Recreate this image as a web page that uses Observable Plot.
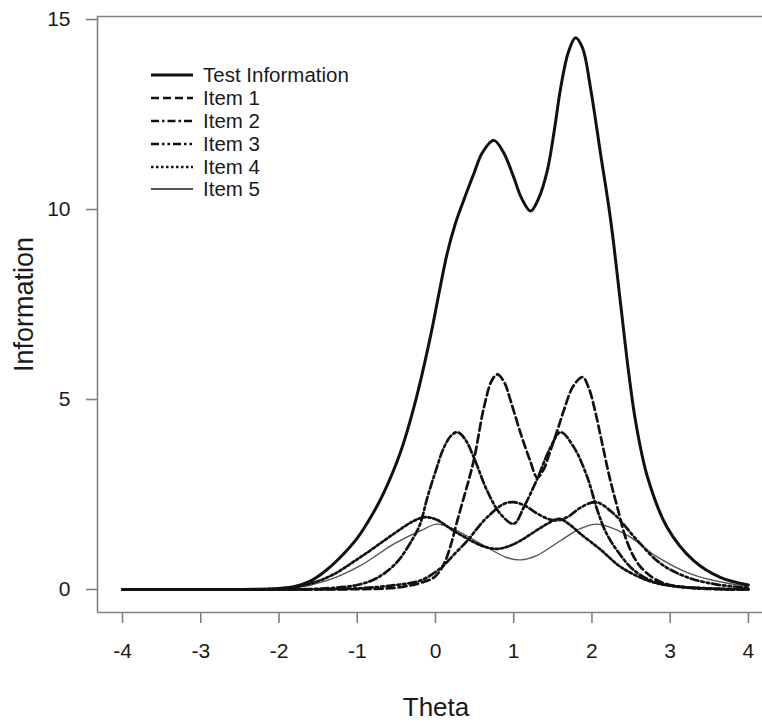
<!DOCTYPE html>
<html>
<head>
<meta charset="utf-8">
<script src="https://cdn.jsdelivr.net/npm/d3@7"></script>
<script src="https://cdn.jsdelivr.net/npm/@observablehq/plot@0.6"></script>
<style>
  html, body { margin: 0; padding: 0; background: #fff; overflow: hidden; }
  #wrap { position: relative; width: 762px; height: 726px; font-family: "Liberation Sans", Arial, sans-serif; }
  #legend { position: absolute; left: 150px; top: 64px; }
  .row { display: flex; align-items: center; height: 22.8px; }
  .row svg { display: block; }
  .row span { font-size: 20.5px; color: #1a1a1a; margin-left: 9px; line-height: 22px; }
</style>
</head>
<body>
<div id="wrap"></div>
<script>
// ---- data ----
const seriesNames = ["Test Information", "Item 1", "Item 2", "Item 3", "Item 4", "Item 5"];
const xTicks = [-4, -3, -2, -1, 0, 1, 2, 3, 4];
const yTicks = [0, 5, 10, 15];

const testTheta = [-4, -3, -2.2, -2, -1.8, -1.6, -1.4, -1.2, -1.0, -0.8, -0.66, -0.45, -0.25, -0.06, 0.05, 0.15, 0.25, 0.36, 0.49, 0.6, 0.746, 0.87, 1.0, 1.1, 1.215, 1.32, 1.43, 1.52, 1.6, 1.7, 1.79, 1.88, 1.98, 2.11, 2.24, 2.37, 2.47, 2.56, 2.71, 2.96, 3.3, 3.64, 4];
const testInfo  = [0, 0, 0.01, 0.03, 0.08, 0.22, 0.5, 0.88, 1.35, 2.0, 2.55, 3.6, 5.0, 6.7, 7.85, 8.85, 9.6, 10.24, 10.94, 11.5, 11.82, 11.5, 10.85, 10.3, 9.96, 10.3, 11.03, 12.1, 13.2, 14.15, 14.52, 14.25, 13.22, 11.47, 9.71, 7.45, 5.7, 4.4, 2.96, 1.64, 0.76, 0.32, 0.12];

const item1Theta = [-4, -2, -1, -0.5, -0.15, 0, 0.11, 0.2, 0.28, 0.38, 0.49, 0.62, 0.72, 0.79, 0.88, 0.96, 1.09, 1.21, 1.3, 1.38, 1.47, 1.56, 1.64, 1.76, 1.88, 1.96, 2.04, 2.12, 2.22, 2.32, 2.45, 2.6, 2.8, 3.0, 3.5, 4];
const item1Info  = [0, 0, 0.01, 0.05, 0.2, 0.35, 0.68, 1.2, 1.82, 2.55, 3.4, 4.8, 5.5, 5.66, 5.45, 4.97, 4.1, 3.39, 2.95, 3.15, 3.66, 4.2, 4.71, 5.35, 5.59, 5.3, 4.7, 3.95, 3.0, 2.2, 1.25, 0.65, 0.28, 0.12, 0.02, 0];

const item2Theta = [-4, -2, -1.4, -1, -0.75, -0.5, -0.3, -0.2, -0.1, 0, 0.1, 0.2, 0.28, 0.38, 0.49, 0.66, 0.83, 1.0, 1.13, 1.3, 1.47, 1.6, 1.77, 1.94, 2.07, 2.18, 2.32, 2.54, 2.8, 3.2, 3.6, 4];
const item2Info  = [0, 0, 0.03, 0.12, 0.3, 0.7, 1.3, 1.7, 2.45, 3.1, 3.7, 4.05, 4.14, 3.95, 3.48, 2.6, 1.99, 1.73, 2.17, 2.91, 3.74, 4.14, 3.74, 2.96, 2.08, 1.5, 1.03, 0.5, 0.2, 0.05, 0.01, 0];

const item3Theta = [-4, -2, -1, -0.5, -0.19, 0.06, 0.25, 0.41, 0.55, 0.66, 0.87, 1.0, 1.15, 1.3, 1.45, 1.56, 1.7, 1.85, 2.05, 2.28, 2.58, 2.88, 3.22, 3.6, 4];
const item3Info  = [0, 0, 0.03, 0.12, 0.24, 0.55, 0.95, 1.29, 1.65, 1.9, 2.25, 2.30, 2.2, 2.0, 1.85, 1.82, 1.92, 2.15, 2.30, 1.99, 1.29, 0.68, 0.32, 0.13, 0.05];

const item4Theta = [-4, -2.2, -1.8, -1.38, -0.96, -0.53, -0.3, -0.15, 0, 0.23, 0.45, 0.62, 0.79, 0.95, 1.09, 1.25, 1.43, 1.58, 1.72, 1.85, 2.11, 2.37, 2.71, 3.0, 3.5, 4];
const item4Info  = [0, 0.01, 0.06, 0.32, 0.85, 1.47, 1.78, 1.90, 1.85, 1.55, 1.29, 1.13, 1.07, 1.15, 1.29, 1.5, 1.73, 1.86, 1.7, 1.47, 1.05, 0.59, 0.24, 0.1, 0.03, 0.01];

const item5Theta = [-4, -2.2, -1.8, -1.38, -0.96, -0.53, -0.19, 0.02, 0.2, 0.45, 0.66, 0.9, 1.09, 1.3, 1.6, 1.85, 2.05, 2.2, 2.49, 2.84, 3.26, 3.77, 4];
const item5Info  = [0, 0.01, 0.04, 0.24, 0.63, 1.2, 1.55, 1.72, 1.62, 1.35, 1.11, 0.85, 0.78, 0.9, 1.29, 1.6, 1.72, 1.66, 1.38, 0.85, 0.41, 0.15, 0.1];

// ---- styles ----
const styles = [
  {stroke: "#111", strokeWidth: 3, dash: null},
  {stroke: "#111", strokeWidth: 2.7, dash: "8,4"},
  {stroke: "#111", strokeWidth: 2.7, dash: "8,3,2.5,3"},
  {stroke: "#111", strokeWidth: 2.7, dash: "8,3,2.5,3,2.5,3"},
  {stroke: "#111", strokeWidth: 2.7, dash: "2.5,2.5"},
  {stroke: "#555", strokeWidth: 1.4, dash: null}
];

const zip = (t, v) => t.map((d, i) => ({theta: d, info: v[i]}));
const series = [
  zip(testTheta, testInfo),
  zip(item1Theta, item1Info),
  zip(item2Theta, item2Info),
  zip(item3Theta, item3Info),
  zip(item4Theta, item4Info),
  zip(item5Theta, item5Info)
];

const xDomain = [-4.32, 4.18];
const yDomain = [-0.605, 15.08];
const frameColor = "#808080";

const lineMarks = series.slice().reverse().map((data, j) => {
  const i = series.length - 1 - j;
  const s = styles[i];
  const opts = {x: "theta", y: "info", stroke: s.stroke, strokeWidth: s.strokeWidth, curve: "catmull-rom"};
  if (s.dash) opts.strokeDasharray = s.dash;
  return Plot.line(data, opts);
});

const chart = Plot.plot({
  width: 762,
  height: 726,
  marginTop: 16,
  marginBottom: 114,
  marginLeft: 97,
  marginRight: 0,
  style: {fontFamily: "'Liberation Sans', Arial, sans-serif", background: "#fff", color: "#1a1a1a"},
  x: {domain: xDomain},
  y: {domain: yDomain},
  marks: [
    Plot.ruleY([yDomain[0]], {stroke: frameColor, strokeWidth: 1.6}),
    Plot.ruleY([yDomain[1]], {stroke: frameColor, strokeWidth: 1.6}),
    Plot.ruleX([xDomain[0]], {stroke: frameColor, strokeWidth: 1.6}),
    Plot.axisX(xTicks, {anchor: "bottom", tickSize: 11, tickPadding: 20, fontSize: 21, stroke: frameColor, fill: "#1a1a1a", strokeWidth: 1.6, label: null, tickFormat: d => String(d)}),
    Plot.axisY(yTicks, {anchor: "left", tickSize: 11, tickPadding: 16, fontSize: 21, stroke: frameColor, fill: "#1a1a1a", strokeWidth: 1.6, label: null, tickFormat: d => String(d)}),
    Plot.text(["Theta"], {frameAnchor: "bottom", dx: 6, dy: 95, fontSize: 26, fill: "#1a1a1a", lineAnchor: "middle"}),
    Plot.text(["Information"], {frameAnchor: "left", textAnchor: "middle", dx: -73, dy: -10, rotate: -90, fontSize: 27, fill: "#1a1a1a", lineAnchor: "middle"}),
    ...lineMarks
  ]
});

const wrap = document.getElementById("wrap");
wrap.appendChild(chart);

// ---- legend ----
const legend = document.createElement("div");
legend.id = "legend";
seriesNames.forEach((name, i) => {
  const s = styles[i];
  const row = document.createElement("div");
  row.className = "row";
  const svg = d3.create("svg").attr("width", 44).attr("height", 10);
  const ln = svg.append("line").attr("x1", 1).attr("x2", 43).attr("y1", 5).attr("y2", 5)
    .attr("stroke", s.stroke).attr("stroke-width", i === 0 ? 3 : (i === 5 ? 2 : 2.6));
  if (s.dash) ln.attr("stroke-dasharray", s.dash);
  row.appendChild(svg.node());
  const span = document.createElement("span");
  span.textContent = name;
  row.appendChild(span);
  legend.appendChild(row);
});
wrap.appendChild(legend);
</script>
</body>
</html>
